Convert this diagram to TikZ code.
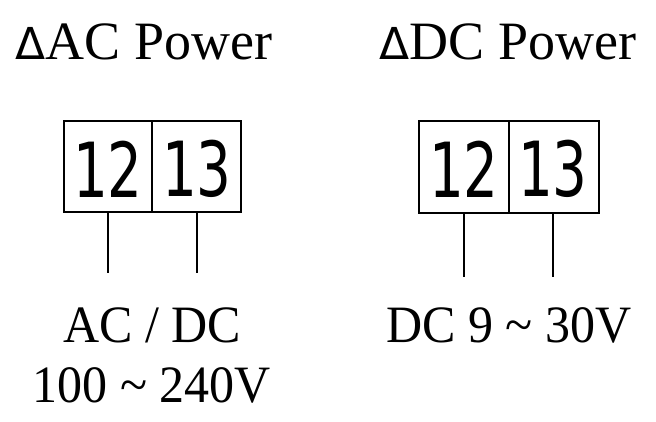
\documentclass[tikz,border=0pt]{standalone}
\usepackage{fontspec}
\setmainfont{Liberation Serif}
\newfontfamily\dig{DejaVu Sans}
\begin{document}
\begin{tikzpicture}[x=1pt,y=-1pt,
  box/.style={draw,line width=2.8pt},
  wire/.style={line width=2.8pt},
  lbl/.style={font=\fontsize{50}{50}\selectfont,inner sep=0pt,yscale=1.05},
  ttl/.style={font=\fontsize{54}{54}\selectfont,inner sep=0pt},
  num/.style={font=\dig\fontsize{76}{76}\selectfont,xscale=0.72,inner sep=0pt}]
\useasboundingbox (0,0) rectangle (656,422);
\node[ttl] (t1) at (144,42) {{\dig\fontsize{44}{44}\selectfont Δ}AC Power};
\node[ttl] (t2) at (508,42) {{\dig\fontsize{44}{44}\selectfont Δ}DC Power};
\draw[box] (64,121) rectangle (241,212);
\draw[box] (152,121) -- (152,212);
\node[num] (a12) at (108,169) {12};
\node[num] (a13) at (197,169) {13};
\coordinate (a1) at (108,212); \coordinate (a1e) at (108,273);
\coordinate (a2) at (197,212); \coordinate (a2e) at (197,273);
\draw[wire] (a1) -- (a1e); \draw[wire] (a2) -- (a2e);
\draw[box] (419,121) rectangle (599,213);
\draw[box] (509,121) -- (509,213);
\node[num] (b12) at (464,169) {12};
\node[num] (b13) at (553,169) {13};
\coordinate (b1) at (464,213); \coordinate (b1e) at (464,277);
\coordinate (b2) at (553,213); \coordinate (b2e) at (553,277);
\draw[wire] (b1) -- (b1e); \draw[wire] (b2) -- (b2e);
\node[lbl] (l1) at (152,325) {AC / DC};
\node[lbl] (l2) at (152,385) {100 \char`~\ 240V};
\node[lbl] (l3) at (509,325) {DC 9 \char`~\ 30V};
\end{tikzpicture}
\end{document}
